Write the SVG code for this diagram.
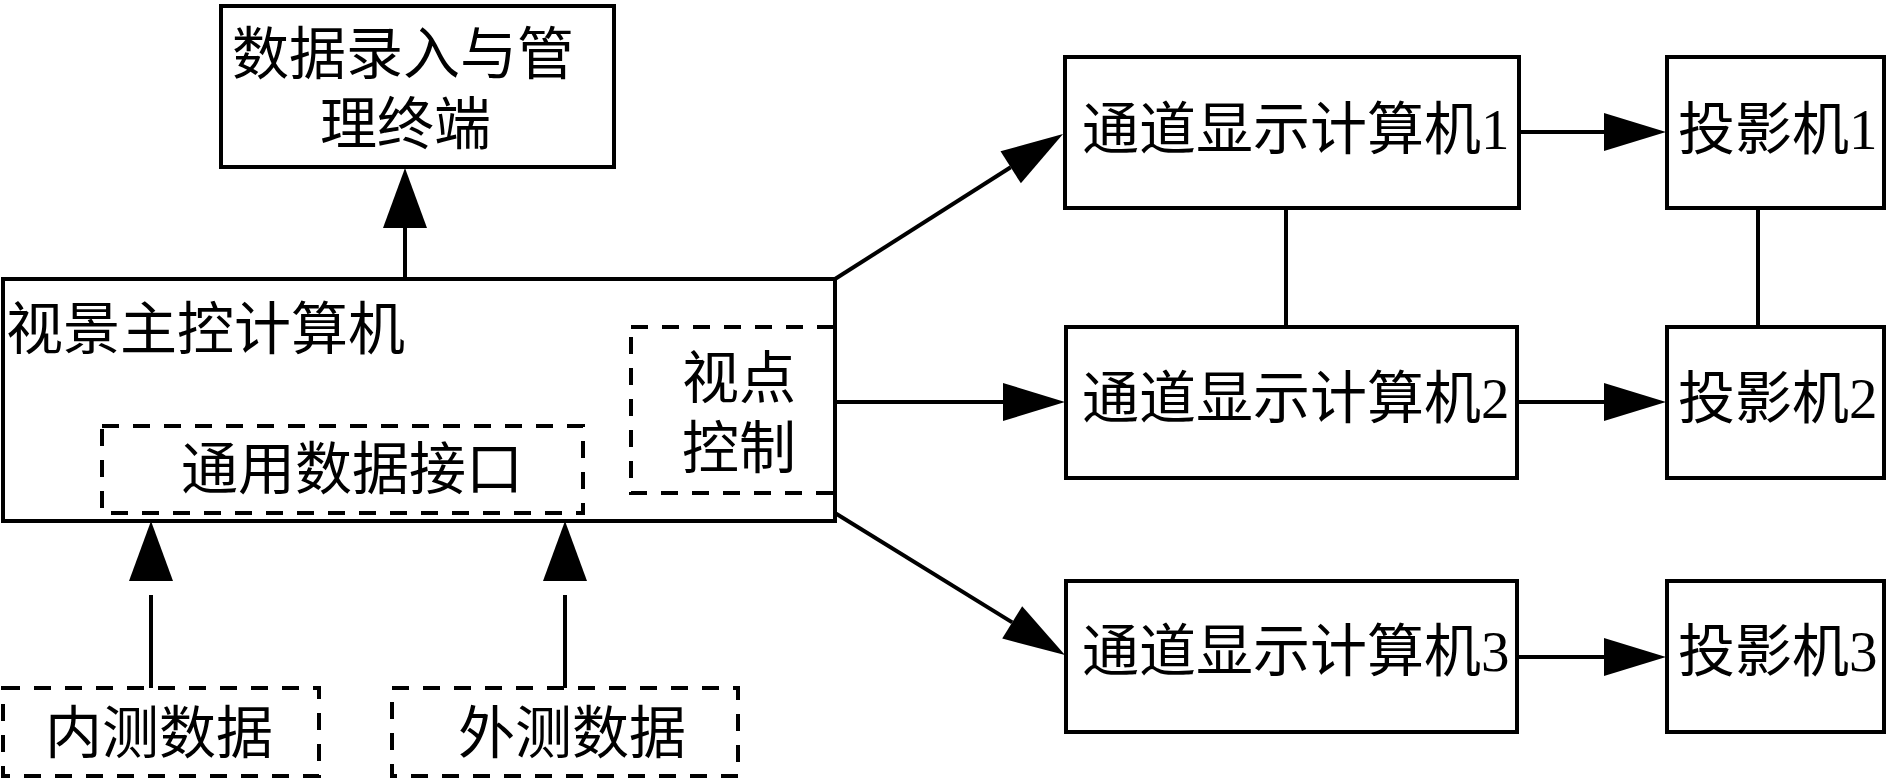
<svg xmlns="http://www.w3.org/2000/svg" width="1890" height="780" viewBox="0 0 1890 780">
<style>
.box{fill:none;stroke:#000;stroke-width:4}
.dash{fill:none;stroke:#000;stroke-width:4;stroke-dasharray:17 14}
.ln{fill:none;stroke:#000;stroke-width:4}
.t{font-family:"Liberation Serif","Noto Sans CJK SC",serif;font-size:57px;fill:#000}
</style>
<defs>
<marker id="ah" markerUnits="userSpaceOnUse" viewBox="0 0 62 38" refX="0" refY="19" markerWidth="62" markerHeight="38" orient="auto" overflow="visible">
<path d="M0,0 L62,19 L0,38 Z" fill="#000"/>
</marker>
<marker id="av" markerUnits="userSpaceOnUse" viewBox="0 0 60 44" refX="0" refY="22" markerWidth="60" markerHeight="44" orient="auto" overflow="visible">
<path d="M0,0 L60,22 L0,44 Z" fill="#000"/>
</marker>
<marker id="ag" markerUnits="userSpaceOnUse" viewBox="0 0 74 44" refX="0" refY="22" markerWidth="74" markerHeight="44" orient="auto" overflow="visible">
<path d="M14,0 L74,22 L14,44 Z" fill="#000"/>
</marker>
</defs>
<rect width="1890" height="780" fill="#fff"/>
<g id="connectors">
<line class="ln" x1="405" y1="279" x2="405" y2="228" marker-end="url(#av)"/>
<line class="ln" x1="151" y1="688" x2="151" y2="595" marker-end="url(#ag)"/>
<line class="ln" x1="565" y1="688" x2="565" y2="595" marker-end="url(#ag)"/>
<line class="ln" x1="835" y1="279" x2="1010.7" y2="167.3" marker-end="url(#ah)"/>
<line class="ln" x1="835" y1="402" x2="1003" y2="402" marker-end="url(#ah)"/>
<line class="ln" x1="835" y1="513" x2="1012.2" y2="622.4" marker-end="url(#ah)"/>
<line class="ln" x1="1519" y1="132" x2="1604" y2="132" marker-end="url(#ah)"/>
<line class="ln" x1="1517" y1="402" x2="1604" y2="402" marker-end="url(#ah)"/>
<line class="ln" x1="1517" y1="657" x2="1604" y2="657" marker-end="url(#ah)"/>
<line class="ln" x1="1286" y1="208" x2="1286" y2="327"/>
<line class="ln" x1="1758" y1="208" x2="1758" y2="327"/>
</g>
<g id="terminal">
<rect class="box" x="221" y="6" width="393" height="161"/>
<text class="t" x="232" y="74">数据录入与管</text>
<text class="t" x="320" y="144">理终端</text>
</g>
<g id="main">
<rect class="box" x="3" y="279" width="832" height="242"/>
<text class="t" x="6" y="349">视景主控计算机</text>
</g>
<g id="viewpoint">
<rect class="dash" x="631" y="327" width="204" height="166"/>
<text class="t" x="682" y="398">视点</text>
<text class="t" x="682" y="468">控制</text>
</g>
<g id="interface">
<rect class="dash" x="102" y="426" width="481" height="87"/>
<text class="t" x="181" y="489">通用数据接口</text>
</g>
<g id="inner">
<rect class="dash" x="3" y="688" width="316" height="88"/>
<text class="t" x="45" y="753">内测数据</text>
</g>
<g id="outer">
<rect class="dash" x="392" y="688" width="346" height="88"/>
<text class="t" x="458" y="753">外测数据</text>
</g>
<g id="ch1">
<rect class="box" x="1065" y="57" width="454" height="151"/>
<text class="t" x="1082" y="149">通道显示计算机1</text>
</g>
<g id="ch2">
<rect class="box" x="1066" y="327" width="451" height="151"/>
<text class="t" x="1082" y="418">通道显示计算机2</text>
</g>
<g id="ch3">
<rect class="box" x="1066" y="581" width="451" height="151"/>
<text class="t" x="1082" y="671">通道显示计算机3</text>
</g>
<g id="pj1">
<rect class="box" x="1667" y="57" width="217" height="151"/>
<text class="t" x="1678" y="149">投影机1</text>
</g>
<g id="pj2">
<rect class="box" x="1667" y="327" width="217" height="151"/>
<text class="t" x="1678" y="418">投影机2</text>
</g>
<g id="pj3">
<rect class="box" x="1667" y="581" width="217" height="151"/>
<text class="t" x="1678" y="671">投影机3</text>
</g>
</svg>
